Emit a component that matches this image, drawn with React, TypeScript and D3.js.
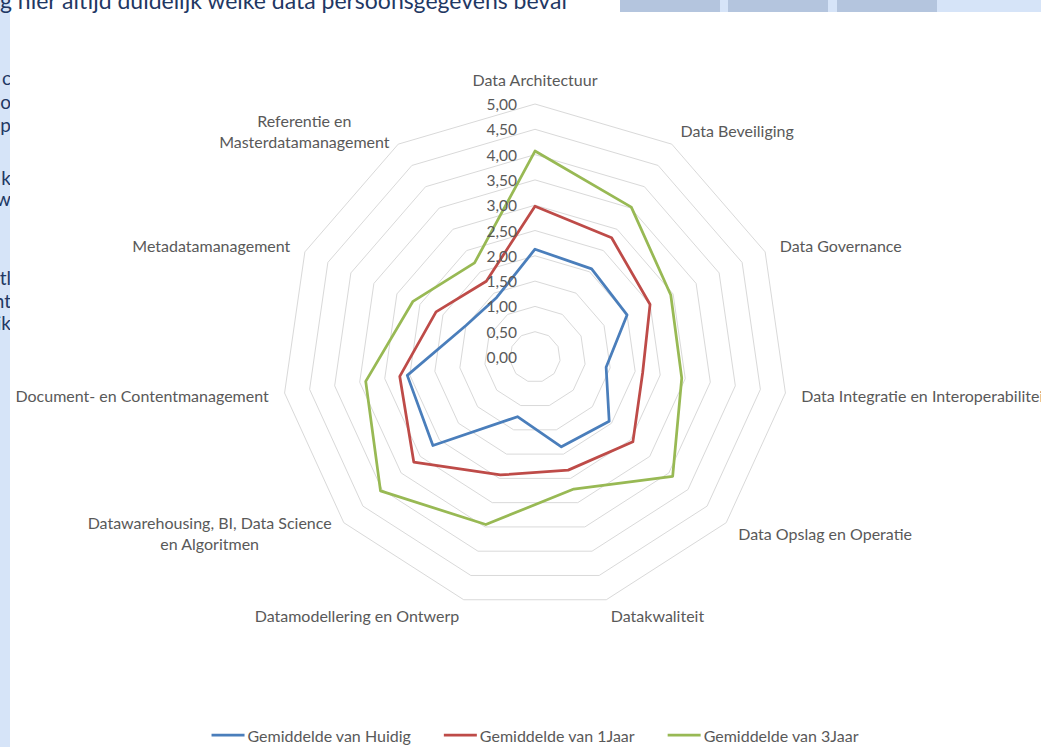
import React, { useEffect, useRef } from 'react';
import { curveLinearClosed, formatLocale, lineRadial, scaleLinear, select } from 'd3';

// categories clockwise starting at 12 o'clock ("\n" = wrapped label)
const categories = [
  'Data Architectuur',
  'Data Beveiliging',
  'Data Governance',
  'Data Integratie en Interoperabiliteit',
  'Data Opslag en Operatie',
  'Datakwaliteit',
  'Datamodellering en Ontwerp',
  'Datawarehousing, BI, Data Science\nen Algoritmen',
  'Document- en Contentmanagement',
  'Metadatamanagement',
  'Referentie en\nMasterdatamanagement',
];

const huidig = [2.13, 2.07, 2.0, 1.42, 1.94, 1.85, 1.23, 2.67, 2.55, 1.5, 1.4];
const eenJaar = [2.98, 2.8, 2.5, 2.15, 2.56, 2.33, 2.43, 3.17, 2.7, 2.15, 1.78];
const drieJaar = [4.07, 3.52, 2.95, 2.93, 3.6, 2.72, 3.45, 4.04, 3.38, 2.65, 2.21];

const seriesNames = ['Gemiddelde van Huidig', 'Gemiddelde van 1Jaar', 'Gemiddelde van 3Jaar'];
const tickValues = [0, 0.5, 1, 1.5, 2, 2.5, 3, 3.5, 4, 4.5, 5];

// bits of the surrounding document visible in the screenshot
const topText = 'g hier altijd duidelijk welke data persoonsgegevens beval';
const sideFragments = ['l c', 'o', 'p', 'k', 'w', 'tl', 'nt', 'ik'];
const sideFragmentY = [77, 101, 124, 177, 198, 277, 300, 322];

const colors = ['#4A7EBB', '#BE4B48', '#98B954'];
const W = 1041;
const H = 747;
const cx = 535;
const cy = 357;
const R = 253;
const FONT = 'Lato, "Open Sans", sans-serif';
const LABEL_SIZE = 16;

const nl = formatLocale({ decimal: ',', thousands: '.', grouping: [3], currency: ['€', ''] });
const fmt = nl.format('.2f');

const App: React.FC = () => {
  const svgRef = useRef<SVGSVGElement>(null);

  useEffect(() => {
    const svg = select(svgRef.current);
    const n = categories.length;
    const angle = (i: number) => (i * 2 * Math.PI) / n;
    const r = scaleLinear().domain([0, 5]).range([0, R]);

    const chart = svg.select<SVGGElement>('.chart').attr('transform', `translate(${cx},${cy})`);

    // grid rings
    const ring = lineRadial<number>()
      .angle((_, i) => angle(i))
      .radius((d) => r(d))
      .curve(curveLinearClosed);
    chart
      .select('.grid')
      .selectAll('path')
      .data(tickValues.filter((t) => t > 0))
      .join('path')
      .attr('d', (t) => ring(categories.map(() => t)))
      .attr('fill', 'none')
      .attr('stroke', '#D9D9D9')
      .attr('stroke-width', 1);

    // series
    const series = [huidig, eenJaar, drieJaar];
    chart
      .select('.series')
      .selectAll('path')
      .data(series)
      .join('path')
      .attr('d', (d) => ring(d))
      .attr('fill', 'none')
      .attr('stroke', (_, i) => colors[i])
      .attr('stroke-width', 2.75)
      .attr('stroke-linejoin', 'round');

    // value axis labels
    chart
      .select('.ticks')
      .selectAll('text')
      .data(tickValues)
      .join('text')
      .attr('x', -18)
      .attr('y', (t) => -r(t))
      .attr('text-anchor', 'end')
      .attr('dominant-baseline', 'central')
      .attr('font-family', FONT)
      .attr('font-size', 15.5)
      .attr('fill', '#595959')
      .text((t) => fmt(t));

    // category labels
    const labels = chart.select('.labels');
    labels.selectAll('*').remove();
    categories.forEach((cat, i) => {
      const a = angle(i);
      const s = Math.sin(a);
      const c = Math.cos(a);
      const lx = s * (R + 16);
      let ly = -c * (R + 16);
      const anchor = s > 0.1 ? 'start' : s < -0.1 ? 'end' : 'middle';
      if (anchor === 'middle') ly -= c * 9;
      const lines = cat.split('\n');
      const texts = lines.map((ln, j) =>
        labels
          .append('text')
          .attr('x', lx)
          .attr('y', ly + (j - (lines.length - 1) / 2) * 21)
          .attr('text-anchor', lines.length > 1 ? 'middle' : anchor)
          .attr('dominant-baseline', 'central')
          .attr('font-family', FONT)
          .attr('font-size', LABEL_SIZE)
          .attr('fill', '#595959')
          .text(ln),
      );
      if (lines.length > 1) {
        const w = Math.max(...texts.map((t) => (t.node() as SVGTextElement).getComputedTextLength()));
        const mx = anchor === 'end' ? lx - w / 2 : anchor === 'start' ? lx + w / 2 : lx;
        texts.forEach((t) => t.attr('x', mx));
      }
    });

    // legend
    const legend = svg.select('.legend');
    legend.selectAll('*').remove();
    const items = seriesNames.map((name, i) => {
      const g = legend.append('g');
      g.append('line')
        .attr('x1', 0)
        .attr('x2', 33)
        .attr('y1', 0)
        .attr('y2', 0)
        .attr('stroke', colors[i])
        .attr('stroke-width', 2.75);
      const t = g
        .append('text')
        .attr('x', 36)
        .attr('y', 0)
        .attr('dominant-baseline', 'central')
        .attr('font-family', FONT)
        .attr('font-size', LABEL_SIZE)
        .attr('fill', '#595959')
        .text(name);
      return { g, w: 36 + (t.node() as SVGTextElement).getComputedTextLength() };
    });
    const gap = 33;
    const total = items.reduce((acc, it) => acc + it.w, 0) + gap * (items.length - 1);
    let x = cx - total / 2;
    items.forEach((it) => {
      it.g.attr('transform', `translate(${x},735)`);
      x += it.w + gap;
    });
  }, []);

  return (
    <div style={{ position: 'fixed', left: 0, top: 0, width: W, height: H, background: '#fff' }}>
      <svg ref={svgRef} width={W} height={H} style={{ display: 'block' }}>
        <defs>
          <clipPath id="side-clip">
            <rect x={0} y={0} width={10} height={H} />
          </clipPath>
        </defs>
        <rect x={0} y={0} width={W} height={H} fill="#fff" />
        <rect x={0} y={0} width={10} height={H} fill="#D6E4F8" />
        <rect x={620} y={0} width={W - 620} height={12} fill="#D6E4F8" />
        <rect x={620} y={0} width={100} height={12} fill="#B4C5DE" />
        <rect x={728} y={0} width={100} height={12} fill="#B4C5DE" />
        <rect x={837} y={0} width={100} height={12} fill="#B4C5DE" />
        <text x={0} y={9} fontFamily={FONT} fontSize={23} fill="#1F3864">
          {topText}
        </text>
        <g clipPath="url(#side-clip)">
          {sideFragments.map((f, i) => (
            <text
              key={i}
              x={11}
              y={sideFragmentY[i]}
              textAnchor="end"
              dominantBaseline="central"
              fontFamily={FONT}
              fontSize={19}
              fill="#1F3864"
            >
              {f}
            </text>
          ))}
        </g>
        <g className="chart">
          <g className="grid" />
          <g className="series" />
          <g className="ticks" />
          <g className="labels" />
        </g>
        <g className="legend" />
      </svg>
    </div>
  );
};

export default App;
